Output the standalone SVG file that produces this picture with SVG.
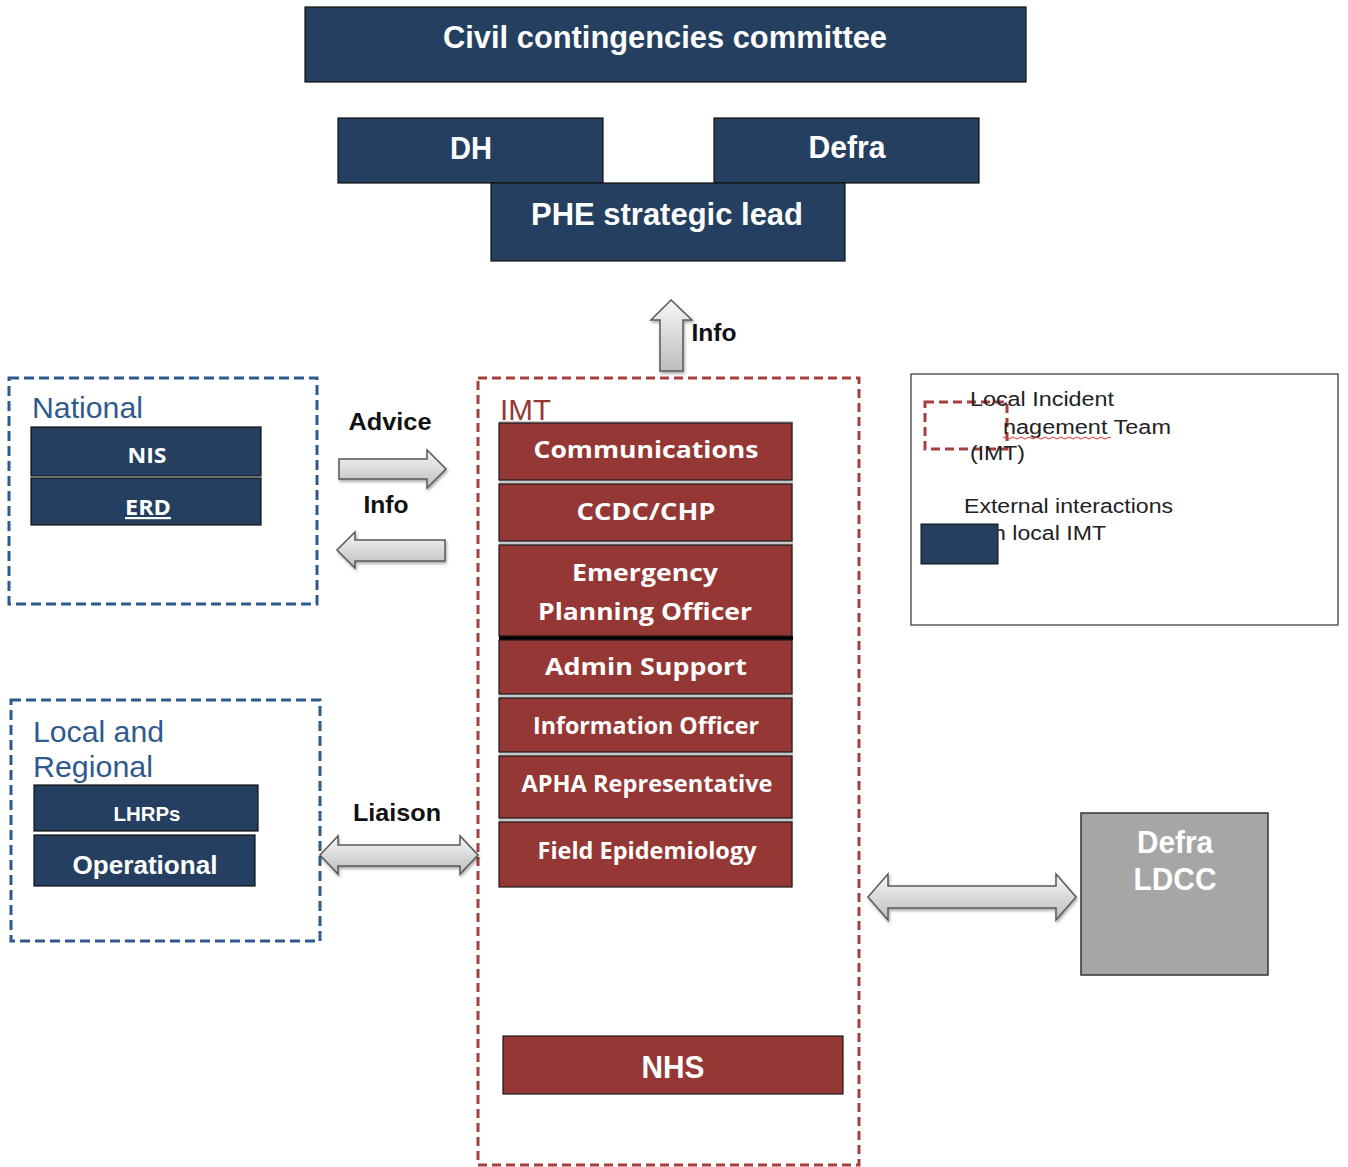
<svg xmlns="http://www.w3.org/2000/svg" width="1348" height="1167" viewBox="0 0 1348 1167">
<defs>
<linearGradient id="ag" x1="0" y1="0" x2="0" y2="1">
<stop offset="0" stop-color="#f7f7f7"/>
<stop offset="1" stop-color="#bdbdbd"/>
</linearGradient>
<filter id="sh" x="-10%" y="-10%" width="130%" height="140%">
<feDropShadow dx="1" dy="2" stdDeviation="1.5" flood-color="#000" flood-opacity="0.35"/>
</filter>
</defs>
<style>
.blue{fill:#243F60;stroke:#111;stroke-width:1.2}
.red{fill:#953735;stroke:#1a1a1a;stroke-width:1.2}
.hd{font-family:"Liberation Sans",Arial,sans-serif;font-weight:bold;fill:#fff;text-anchor:middle}
.cal{font-family:"Open Sans","Liberation Sans",sans-serif;font-weight:bold;fill:#fff;text-anchor:middle}
.lbl{font-family:"Liberation Sans",Arial,sans-serif;font-weight:bold;fill:#111;text-anchor:middle;font-size:24px}
.arr{fill:url(#ag);stroke:#595959;stroke-width:1.5;filter:url(#sh)}
.bdash{fill:none;stroke:#2E5A8E;stroke-width:3;stroke-dasharray:10 5}
.rdash{fill:none;stroke:#A5403E;stroke-width:3;stroke-dasharray:9 5}
.grp{font-family:"Liberation Sans",Arial,sans-serif;font-size:30px}
.leg{font-family:"Liberation Sans",Arial,sans-serif;font-size:20px;fill:#222}
</style>
<rect width="1348" height="1167" fill="#fff"/>

<g id="civil-contingencies">
<rect class="blue" x="305" y="7" width="721" height="75"/>
<text class="hd" x="665" y="48" font-size="31" textLength="444" lengthAdjust="spacingAndGlyphs">Civil contingencies committee</text>
</g>
<g id="dh">
<rect class="blue" x="338" y="118" width="265" height="65"/>
<text class="hd" x="471" y="159" font-size="31" textLength="42" lengthAdjust="spacingAndGlyphs">DH</text>
</g>
<g id="defra">
<rect class="blue" x="714" y="118" width="265" height="65"/>
<text class="hd" x="847" y="158" font-size="31" textLength="77" lengthAdjust="spacingAndGlyphs">Defra</text>
</g>
<g id="phe">
<rect class="blue" x="491" y="183" width="354" height="78"/>
<text class="hd" x="667" y="225" font-size="31" textLength="272" lengthAdjust="spacingAndGlyphs">PHE strategic lead</text>
</g>

<g id="national">
<rect class="bdash" x="9" y="378" width="308" height="226"/>
<text class="grp" x="32" y="418" fill="#2E5A8E" textLength="111" lengthAdjust="spacingAndGlyphs">National</text>
<rect class="blue" x="31" y="427" width="230" height="49"/>
<text class="cal" x="147" y="463" font-size="22" textLength="39" lengthAdjust="spacingAndGlyphs">NIS</text>
<rect class="blue" x="31" y="478" width="230" height="47"/>
<text class="cal" x="148" y="515" font-size="22" textLength="46" lengthAdjust="spacingAndGlyphs" text-decoration="underline">ERD</text>
</g>

<g id="local-regional">
<rect class="bdash" x="11" y="700" width="309" height="241"/>
<text class="grp" x="33" y="742" fill="#2E5A8E" textLength="131" lengthAdjust="spacingAndGlyphs">Local and</text>
<text class="grp" x="33" y="777" fill="#2E5A8E" textLength="120" lengthAdjust="spacingAndGlyphs">Regional</text>
<rect class="blue" x="34" y="785" width="224" height="46"/>
<text class="hd" x="147" y="821" font-size="21" textLength="67" lengthAdjust="spacingAndGlyphs">LHRPs</text>
<rect class="blue" x="34" y="835" width="221" height="51"/>
<text class="hd" x="145" y="874" font-size="26" textLength="145" lengthAdjust="spacingAndGlyphs">Operational</text>
</g>

<g id="imt">
<rect class="rdash" x="478" y="378" width="381" height="787"/>
<text class="grp" x="500" y="420" fill="#953735" textLength="51" lengthAdjust="spacingAndGlyphs">IMT</text>
<rect x="499" y="421" width="294" height="466" fill="#c8c8c8"/>
<rect x="499" y="636" width="294" height="4" fill="#000"/>
</g>
<g id="communications">
<rect class="red" x="499" y="423" width="293" height="57"/>
<text class="cal" x="646" y="458" font-size="24" textLength="225" lengthAdjust="spacingAndGlyphs">Communications</text>
</g>
<g id="ccdc-chp">
<rect class="red" x="499" y="484" width="293" height="57"/>
<text class="cal" x="646" y="520" font-size="24" textLength="139" lengthAdjust="spacingAndGlyphs">CCDC/CHP</text>
</g>
<g id="emergency-planning">
<rect class="red" x="499" y="545" width="293" height="91"/>
<text class="cal" x="645" y="581" font-size="24" textLength="146" lengthAdjust="spacingAndGlyphs">Emergency</text>
<text class="cal" x="645" y="620" font-size="24" textLength="214" lengthAdjust="spacingAndGlyphs">Planning Officer</text>
</g>
<g id="admin-support">
<rect class="red" x="499" y="640" width="293" height="54"/>
<text class="cal" x="646" y="675" font-size="24" textLength="202" lengthAdjust="spacingAndGlyphs">Admin Support</text>
</g>
<g id="information-officer">
<rect class="red" x="499" y="698" width="293" height="54"/>
<text class="cal" x="646" y="734" font-size="23" textLength="226" lengthAdjust="spacingAndGlyphs">Information Officer</text>
</g>
<g id="apha">
<rect class="red" x="499" y="756" width="293" height="62"/>
<text class="cal" x="647" y="792" font-size="23" textLength="251" lengthAdjust="spacingAndGlyphs">APHA Representative</text>
</g>
<g id="field-epi">
<rect class="red" x="499" y="822" width="293" height="65"/>
<text class="cal" x="647" y="859" font-size="23" textLength="219" lengthAdjust="spacingAndGlyphs">Field Epidemiology</text>
</g>
<g id="nhs">
<rect class="red" x="503" y="1036" width="340" height="58"/>
<text class="hd" x="673" y="1078" font-size="31" textLength="63" lengthAdjust="spacingAndGlyphs">NHS</text>
</g>

<g id="defra-ldcc">
<rect x="1081" y="813" width="187" height="162" fill="#A6A6A6" stroke="#333" stroke-width="1.5"/>
<text class="hd" x="1175" y="853" font-size="32" textLength="76" lengthAdjust="spacingAndGlyphs">Defra</text>
<text class="hd" x="1175" y="890" font-size="32" textLength="83" lengthAdjust="spacingAndGlyphs">LDCC</text>
</g>

<g id="legend">
<rect x="911" y="374" width="427" height="251" fill="#fff" stroke="#404040" stroke-width="1.3"/>
<rect x="925" y="402" width="82" height="47" fill="none" stroke="#A5403E" stroke-width="3" stroke-dasharray="9 5"/>
<text class="leg" x="970" y="406" textLength="144" lengthAdjust="spacingAndGlyphs">Local Incident</text>
<text class="leg" x="1003" y="434" textLength="168" lengthAdjust="spacingAndGlyphs">nagement Team</text>
<path d="M1003,438 q2,-2 4,0 t4,0 t4,0 t4,0 t4,0 t4,0 t4,0 t4,0 t4,0 t4,0 t4,0 t4,0 t4,0 t4,0 t4,0 t4,0 t4,0 t4,0 t4,0 t4,0 t4,0 t4,0 t4,0 t4,0 t4,0 t4,0 t4,0" fill="none" stroke="#e03030" stroke-width="1"/>
<text class="leg" x="970" y="460" textLength="55" lengthAdjust="spacingAndGlyphs">(IMT)</text>
<text class="leg" x="964" y="513" textLength="209" lengthAdjust="spacingAndGlyphs">External interactions</text>
<text class="leg" x="993" y="540" textLength="113" lengthAdjust="spacingAndGlyphs">h local IMT</text>
<rect x="921" y="524" width="77" height="40" fill="#243F60" stroke="#111" stroke-width="1"/>
</g>

<g id="connectors">
<polygon class="arr" points="671,300 692,320 683,320 683,371 660,371 660,320 651,320"/>
<text class="lbl" x="714" y="341" textLength="45" lengthAdjust="spacingAndGlyphs">Info</text>
<polygon class="arr" points="339,459 427,459 427,450 446,469 427,488 427,479 339,479"/>
<text class="lbl" x="390" y="430" textLength="83" lengthAdjust="spacingAndGlyphs">Advice</text>
<polygon class="arr" points="445,540 355,540 355,532 337,550 355,568 355,561 445,561"/>
<text class="lbl" x="386" y="513" textLength="45" lengthAdjust="spacingAndGlyphs">Info</text>
<polygon class="arr" points="320,855 338,836 338,845 460,845 460,836 478,855 460,874 460,866 338,866 338,874"/>
<text class="lbl" x="397" y="821" textLength="88" lengthAdjust="spacingAndGlyphs">Liaison</text>
<polygon class="arr" points="868,897 888,874 888,886 1056,886 1056,874 1076,897 1056,920 1056,908 888,908 888,920"/>
</g>
</svg>
